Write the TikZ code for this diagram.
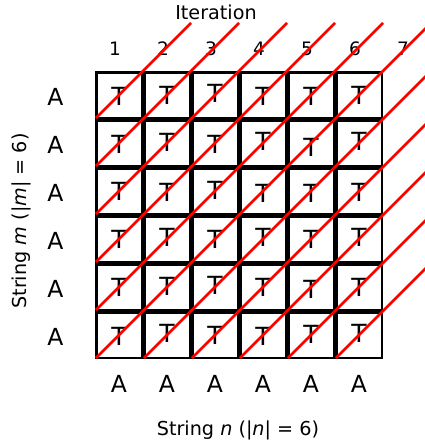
\documentclass[tikz,border=0pt]{standalone}
\usepackage{fontspec}
\setmainfont{DejaVu Sans}
\begin{document}
\begin{tikzpicture}[x=1pt,y=-1pt,
  cell/.style={draw=black, line width=2.4pt, fill=white, minimum size=45.4pt, inner sep=0pt},
  tee/.style={font=\fontsize{25}{28}\selectfont, inner sep=0pt},
  letter/.style={font=\fontsize{23.5}{28}\selectfont, inner sep=0pt, anchor=base},
  iter/.style={font=\fontsize{18.5}{22}\selectfont, inner sep=0pt, anchor=base},
  caption/.style={font=\fontsize{19.2}{23}\selectfont, inner sep=0pt, anchor=base},
  redline/.style={draw=red, line width=2.6pt}]
\useasboundingbox (0,0) rectangle (425,442);

% grid of cells, each with a slightly jittered T
\foreach \row [count=\r] in {{1,0,-2,1,1,0},{1,-1,1,-2,4,-2},{0,1,-1,2,2,1},
                             {0,-2,0,-2,0,-2},{0,-1,-2,0,2,0},{1,-2,0,1,-1,-2}}{
  \foreach \dy [count=\c] in \row {
    \node[cell] (c-\r-\c) at (71+48*\c, 47+48*\r) {};
    \node[tee] (t-\r-\c) at (71+48*\c, 47+48*\r+\dy) {T};
  }
}

% iteration numbers and header
\node[caption] (head) at (216,19.5) {Iteration};
\foreach \k in {1,...,7}
  \node[iter] (n-\k) at (67+48*\k, 55) {\k};

% string letters
\foreach \r in {1,...,6}
  \node[letter] (m-\r) at (55.5, 57+48*\r) {A};
\foreach \c in {1,...,6}
  \node[letter] (s-\c) at (71+48*\c, 392) {A};

% axis captions
\node[caption] (capn) at (238,435) {String \textit{n} (|\textit{n}| = 6)};
\node[caption, rotate=90] (capm) at (27,221) {String \textit{m} (|\textit{m}| = 6)};

% anti-diagonal sweep lines, one per iteration
\begin{scope}
  \clip (0,0) rectangle (425,442);
  \foreach \k in {1,...,11}{
    \pgfmathsetmacro{\sx}{\k<6 ? 96 : 48*\k-192}
    \pgfmathsetmacro{\sy}{\k<6 ? 70+48*\k : 358}
    \coordinate (a-\k) at (\sx,\sy);
    \coordinate (b-\k) at (143+48*\k, 23);
    \draw[redline] (a-\k) -- (b-\k);
  }
\end{scope}
\end{tikzpicture}
\end{document}
